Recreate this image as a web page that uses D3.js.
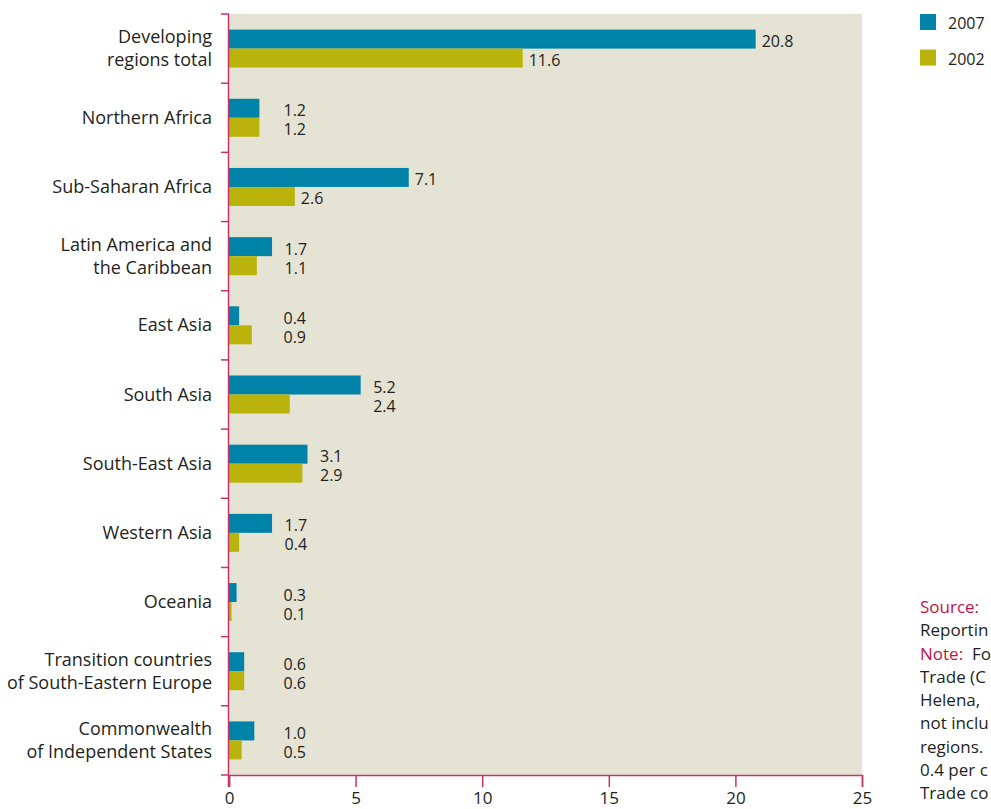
<!DOCTYPE html>
<html>
<head>
<meta charset="utf-8">
<script src="https://cdn.jsdelivr.net/npm/d3@7"></script>
<style>
  html, body { margin: 0; padding: 0; background: #ffffff; }
  svg { display: block; }
  text { font-family: "Open Sans", "Noto Sans", sans-serif; fill: #231f20; }
</style>
</head>
<body>
<svg id="chart" width="991" height="809"></svg>
<script>
// ---- data ----
const categories = [
  ["Developing", "regions total"],
  ["Northern Africa"],
  ["Sub-Saharan Africa"],
  ["Latin America and", "the Caribbean"],
  ["East Asia"],
  ["South Asia"],
  ["South-East Asia"],
  ["Western Asia"],
  ["Oceania"],
  ["Transition countries", "of South-Eastern Europe"],
  ["Commonwealth", "of Independent States"]
];
const values2007 = [20.8, 1.2, 7.1, 1.7, 0.4, 5.2, 3.1, 1.7, 0.3, 0.6, 1.0];
const values2002 = [11.6, 1.2, 2.6, 1.1, 0.9, 2.4, 2.9, 0.4, 0.1, 0.6, 0.5];
const seriesNames = ["2007", "2002"];
const xTicks = [0, 5, 10, 15, 20, 25];
// visible part of the note block (the reference is cropped at its right edge)
const noteLines = [
  [["Source:", true]],
  [["Reportin", false]],
  [["Note:", true], ["  Fo", false]],
  [["Trade (C", false]],
  [["Helena,", false]],
  [["not inclu", false]],
  [["regions.", false]],
  [["0.4 per c", false]],
  [["Trade co", false]]
];

// ---- layout ----
const colors = { s2007: "#0083a9", s2002: "#b9b30b", bg: "#e5e3d4", axis: "#c7346a", accent: "#c0134a", text: "#231f20" };
const plot = { left: 229, right: 862, top: 14, bottom: 775 };

const svg = d3.select("#chart");

const x = d3.scaleLinear().domain([0, 25]).range([plot.left, plot.right]);
const y = d3.scaleBand().domain(d3.range(categories.length)).range([plot.top, plot.bottom]).paddingInner(0).paddingOuter(0);
const sub = d3.scaleBand().domain(seriesNames).range([0, 38]);

// background
svg.append("rect")
  .attr("x", plot.left).attr("y", plot.top)
  .attr("width", plot.right - plot.left).attr("height", plot.bottom - plot.top)
  .attr("fill", colors.bg);

const rows = categories.map((c, i) => ({ i, lines: c, v: [values2007[i], values2002[i]] }));

const g = svg.append("g");
const groups = g.selectAll("g.row").data(rows).join("g")
  .attr("class", "row")
  .attr("transform", d => `translate(0,${y(d.i) + (y.bandwidth() - 38) / 2})`);

groups.each(function(d) {
  const sel = d3.select(this);
  seriesNames.forEach((s, k) => {
    sel.append("rect")
      .attr("x", x(0))
      .attr("y", sub(s))
      .attr("width", x(d.v[k]) - x(0))
      .attr("height", sub.bandwidth())
      .attr("fill", k === 0 ? colors.s2007 : colors.s2002);
  });
  const mx = d3.max(d.v);
  seriesNames.forEach((s, k) => {
    const t = sel.append("text")
      .attr("y", sub(s) + sub.bandwidth() / 2 + 8)
      .attr("font-size", 16)
      .text(d3.format(".1f")(d.v[k]));
    if (mx >= 7) {
      t.attr("x", x(d.v[k]) + 6).attr("text-anchor", "start");
    } else {
      t.attr("x", Math.max(x(mx) + 35, x(0) + 77)).attr("text-anchor", "end");
    }
  });
});

// category labels
svg.append("g").selectAll("text").data(rows).join("text")
  .attr("text-anchor", "end")
  .attr("font-size", 18)
  .each(function(d) {
    const t = d3.select(this);
    const cy = y(d.i) + y.bandwidth() / 2;
    const n = d.lines.length;
    d.lines.forEach((ln, j) => {
      t.append("tspan")
        .attr("x", 212)
        .attr("y", cy + (j - (n - 1) / 2) * 23 + 6)
        .text(ln);
    });
  });

// y axis (boundary ticks)
const yAxisG = svg.append("g").attr("stroke", colors.axis).attr("stroke-width", 1.5);
yAxisG.append("line").attr("x1", x(0) - 0.5).attr("x2", x(0) - 0.5).attr("y1", plot.top).attr("y2", plot.bottom + 12);
yAxisG.selectAll("line.b").data(d3.range(categories.length + 1)).join("line")
  .attr("class", "b")
  .attr("x1", x(0) - 8).attr("x2", x(0))
  .attr("y1", i => i < categories.length ? y(i) : plot.bottom)
  .attr("y2", i => i < categories.length ? y(i) : plot.bottom);

// x axis
const xAxis = d3.axisBottom(x).tickValues(xTicks).tickSize(12).tickPadding(5).tickFormat(d3.format("d"));
const xg = svg.append("g").attr("transform", `translate(0,${plot.bottom})`).call(xAxis);
xg.select(".domain").attr("stroke", colors.axis).attr("stroke-width", 1.5);
xg.selectAll(".tick line").attr("stroke", colors.axis).attr("stroke-width", 1.5);
xg.selectAll(".tick text").attr("font-size", 17).attr("fill", colors.text)
  .style("font-family", '"Open Sans", "Noto Sans", sans-serif');

// legend
const leg = svg.append("g").attr("transform", "translate(920,14)");
seriesNames.forEach((s, k) => {
  leg.append("rect").attr("x", 0).attr("y", k * 35.5).attr("width", 16).attr("height", 16)
    .attr("fill", k === 0 ? colors.s2007 : colors.s2002);
  leg.append("text").attr("x", 28).attr("y", k * 35.5 + 15).attr("font-size", 16).text(s);
});

// notes
const notes = svg.append("g");
noteLines.forEach((parts, i) => {
  const t = notes.append("text").attr("x", 920).attr("y", 613 + i * 23.25).attr("font-size", 17);
  parts.forEach(([txt, red]) => {
    t.append("tspan").attr("fill", red ? colors.accent : colors.text).attr("xml:space", "preserve").text(txt);
  });
});
</script>
</body>
</html>
